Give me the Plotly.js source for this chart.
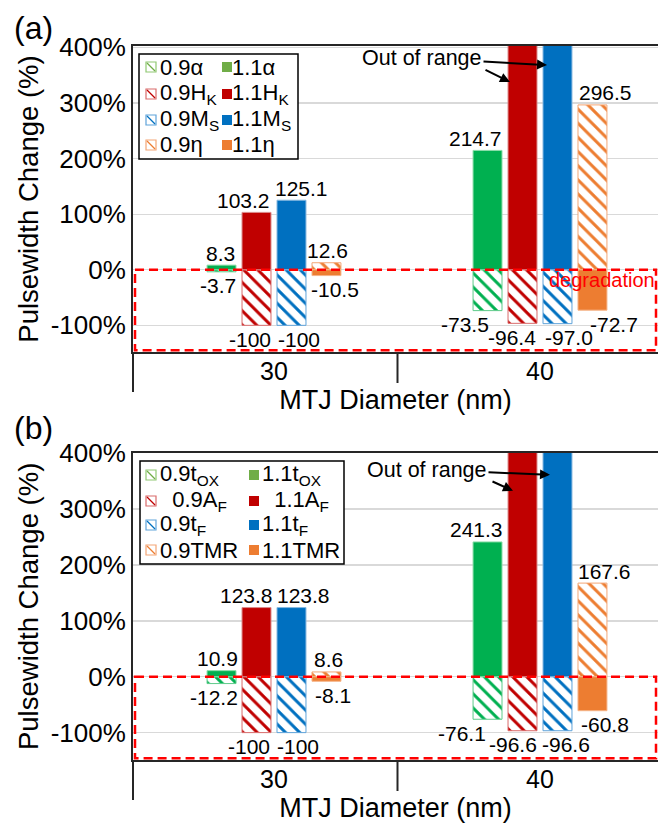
<!DOCTYPE html>
<html><head><meta charset="utf-8">
<script src="https://cdn.plot.ly/plotly-3.0.1.min.js"></script>
<style>body{margin:0;padding:0;background:#fff}#chart{width:658px;height:825px}</style>
</head><body><div id="chart"></div>
<script>
// ---------------- data ----------------
const categories = ['30', '40'];
const yTickVals = [-100, 0, 100, 200, 300, 400];

// panel (a)
const alpha09 = [-3.7, -73.5];
const alpha11 = [8.3, 214.7];
const hk09 = [-100, -96.4];
const hk11 = [103.2, 500];   // 40 nm bar is out of range
const ms09 = [-100, -97.0];
const ms11 = [125.1, 500];   // 40 nm bar is out of range
const eta09 = [12.6, 296.5];
const eta11 = [-10.5, -72.7];
const alpha09Labels = ['-3.7', '-73.5'];
const alpha11Labels = ['8.3', '214.7'];
const hk09Labels = ['-100', '-96.4'];
const hk11Labels = ['103.2', null];
const ms09Labels = ['-100', '-97.0'];
const ms11Labels = ['125.1', null];
const eta09Labels = ['12.6', '296.5'];
const eta11Labels = ['-10.5', '-72.7'];
const namesA09 = ['0.9α', '0.9H<sub>K</sub>', '0.9M<sub>S</sub>', '0.9η'];
const namesA11 = ['1.1α', '1.1H<sub>K</sub>', '1.1M<sub>S</sub>', '1.1η'];

// panel (b)
const tox09 = [-12.2, -76.1];
const tox11 = [10.9, 241.3];
const af09 = [-100, -96.6];
const af11 = [123.8, 500];   // out of range
const tf09 = [-100, -96.6];
const tf11 = [123.8, 500];   // out of range
const tmr09 = [8.6, 167.6];
const tmr11 = [-8.1, -60.8];
const tox09Labels = ['-12.2', '-76.1'];
const tox11Labels = ['10.9', '241.3'];
const af09Labels = ['-100', '-96.6'];
const af11Labels = ['123.8', null];
const tf09Labels = ['-100', '-96.6'];
const tf11Labels = ['123.8', null];
const tmr09Labels = ['8.6', '167.6'];
const tmr11Labels = ['-8.1', '-60.8'];
const namesB09 = ['0.9t<sub>OX</sub>', '\u00a0\u00a00.9A<sub>F</sub>', '0.9t<sub>F</sub>', '0.9TMR'];
const namesB11 = ['1.1t<sub>OX</sub>', '\u00a0\u00a01.1A<sub>F</sub>', '1.1t<sub>F</sub>', '1.1TMR'];

// ---------------- styles ----------------
const FONT = 'Liberation Sans, Arial, sans-serif';
const barColors = ['#00B050', '#C00000', '#0070C0', '#ED7D31'];
const legendColors = ['#70AD47', '#C00000', '#0070C0', '#ED7D31'];
const legendEdge = ['#8FC872', '#D96B6B', '#5FA3DA', '#F3A676'];
const hatchEdge = ['#5ECB8A', '#D96B6B', '#5FA3DA', '#F3A676'];
const solidEdge = ['#8CDDA9', '#DB8A8A', '#86B8E0', '#F5B488'];

const W = 658, H = 825, ML = 133, MR = 0, MT = 46, MB = 65;
const PW = W - ML - MR, PH = H - MT - MB;
const X0PX = 274, UNIT = 266;           // pixel of category 0 and px per category
const PITCH = 35 / UNIT;
const xd = px => (px - X0PX) / UNIT;    // pixel -> category-axis coordinate
const PX = px => (px - ML) / PW;        // pixel -> paper x
const PY = py => (H - MB - py) / PH;    // pixel -> paper y

const labelShiftA = { pos: [[-1, -13, 10, 1], [-12, 0, 0, 13]], neg: [[-4, -7, 7, 8], [-23, -11, 11, 21]] };
const labelShiftB = { pos: [[-4, -10, 12, 2], [-11, 0, 0, 12]], neg: [[-8, -8, 6, 6], [-26, -10, 8, 12]] };

const panels = [
  { xa: 'x', ya: 'y', s09: [alpha09, hk09, ms09, eta09], s11: [alpha11, hk11, ms11, eta11],
    l09: [alpha09Labels, hk09Labels, ms09Labels, eta09Labels], l11: [alpha11Labels, hk11Labels, ms11Labels, eta11Labels],
    n09: namesA09, n11: namesA11, shift: labelShiftA, domain: [0.5714, 1], range: [-148, 402.5] },
  { xa: 'x2', ya: 'y2', s09: [tox09, af09, tf09, tmr09], s11: [tox11, af11, tf11, tmr11],
    l09: [tox09Labels, af09Labels, tf09Labels, tmr09Labels], l11: [tox11Labels, af11Labels, tf11Labels, tmr11Labels],
    n09: namesB09, n11: namesB11, shift: labelShiftB, domain: [0, 0.4304], range: [-149, 401] }
];

const traces = [];
const annotations = [];
const shapes = [];

panels.forEach(p => {
  for (let k = 0; k < 4; k++) {
    traces.push({
      type: 'bar', x: categories, y: p.s09[k], xaxis: p.xa, yaxis: p.ya, offsetgroup: String(k),
      name: p.n09[k], showlegend: false, hoverinfo: 'y+name',
      marker: { color: 'white', line: { color: hatchEdge[k], width: 1 },
        pattern: { shape: '\\', size: 10, solidity: 0.3, fgcolor: barColors[k], bgcolor: 'white', fillmode: 'replace' } }
    });
    traces.push({
      type: 'bar', x: categories, y: p.s11[k], xaxis: p.xa, yaxis: p.ya, offsetgroup: String(k),
      name: p.n11[k], showlegend: false, hoverinfo: 'y+name',
      marker: { color: barColors[k], line: { color: solidEdge[k], width: 1 } }
    });
    [[p.s09[k], p.l09[k]], [p.s11[k], p.l11[k]]].forEach(([vals, labs]) => {
      vals.forEach((v, c) => {
        if (labs[c] == null) return;
        const pos = v >= 0;
        annotations.push({
          xref: p.xa, yref: p.ya, x: c + (k - 1.5) * PITCH, y: v, text: labs[c], showarrow: false,
          xanchor: 'center', yanchor: 'middle',
          xshift: (pos ? p.shift.pos : p.shift.neg)[c][k], yshift: pos ? 12 : -14,
          font: { family: FONT, size: 21, color: '#000' }
        });
      });
    });
  }
});

// red dashed degradation boxes, category boundary ticks, left axis extension
[['x', 'y', -145], ['x2', 'y2', -146]].forEach(([xa, ya, yb]) => {
  shapes.push({ type: 'rect', xref: xa, yref: ya, x0: xd(135), x1: xd(656), y0: 0, y1: yb,
    line: { color: '#FF0000', width: 2.5, dash: '9px,5px' }, fillcolor: 'rgba(0,0,0,0)', layer: 'above' });
  shapes.push({ type: 'line', xref: xa, yref: ya + ' domain', x0: xd(397.5), x1: xd(397.5),
    ysizemode: 'pixel', yanchor: 0, y0: 0, y1: -31, line: { color: '#262626', width: 2 } });
  shapes.push({ type: 'line', xref: xa + ' domain', yref: ya + ' domain', x0: 0, x1: 0,
    ysizemode: 'pixel', yanchor: 0, y0: 0, y1: -40, line: { color: '#262626', width: 2 } });
});

// manual two-column legends
function addLegend(box, rows, cols, n09, n11) {
  shapes.push({ type: 'rect', xref: 'paper', yref: 'paper', x0: PX(box[0]), x1: PX(box[2]), y0: PY(box[1]), y1: PY(box[3]),
    line: { color: '#000', width: 1.5 }, fillcolor: 'white', layer: 'above' });
  rows.forEach((cy, k) => {
    const sx = cols[0];
    shapes.push({ type: 'rect', xref: 'paper', yref: 'paper', x0: PX(sx), x1: PX(sx + 10), y0: PY(cy - 5), y1: PY(cy + 5),
      line: { color: legendEdge[k], width: 1.2 }, fillcolor: 'white', layer: 'above' });
    shapes.push({ type: 'line', xref: 'paper', yref: 'paper', x0: PX(sx + 1), x1: PX(sx + 9), y0: PY(cy - 4), y1: PY(cy + 4),
      line: { color: legendColors[k], width: 1.2 }, layer: 'above' });
    annotations.push({ xref: 'paper', yref: 'paper', x: PX(cols[1]), y: PY(cy), xanchor: 'left', yanchor: 'middle',
      text: n09[k], showarrow: false, borderpad: 0, font: { family: FONT, size: 22, color: '#000' } });
    shapes.push({ type: 'rect', xref: 'paper', yref: 'paper', x0: PX(cols[2]), x1: PX(cols[2] + 10), y0: PY(cy - 5), y1: PY(cy + 5),
      line: { width: 0 }, fillcolor: legendColors[k], layer: 'above' });
    annotations.push({ xref: 'paper', yref: 'paper', x: PX(cols[3]), y: PY(cy), xanchor: 'left', yanchor: 'middle',
      text: n11[k], showarrow: false, borderpad: 0, font: { family: FONT, size: 22, color: '#000' } });
  });
}
addLegend([139, 54, 298, 159], [67, 94, 120, 145], [146, 159, 222, 231], namesA09, namesA11);
addLegend([140, 461, 344, 564], [475, 501, 525, 550], [146, 159, 249, 261], namesB09, namesB11);

// out-of-range arrows
function outOfRange(xa, ya, y0px, pxPerPct, textPt, headBlue, tailRed, headRed) {
  const yv = py => (y0px - py) / pxPerPct;
  annotations.push({ xref: xa, yref: ya, x: xd(headBlue[0]), y: yv(headBlue[1]), text: 'Out of range',
    showarrow: true, arrowhead: 2, arrowsize: 1, arrowwidth: 2, arrowcolor: '#000',
    ax: textPt[0] - headBlue[0], ay: textPt[1] - headBlue[1], font: { family: FONT, size: 21.5, color: '#000' } });
  annotations.push({ xref: xa, yref: ya, x: xd(headRed[0]), y: yv(headRed[1]), text: '',
    showarrow: true, arrowhead: 2, arrowsize: 1, arrowwidth: 2, arrowcolor: '#000',
    ax: tailRed[0] - headRed[0], ay: tailRed[1] - headRed[1] });
}
outOfRange('x', 'y', 269.7, 0.556, [422, 58], [547, 65], [484, 69], [510, 82]);
outOfRange('x2', 'y2', 676.7, 0.558, [427, 470], [550, 475], [491, 481], [513, 491]);

annotations.push({ xref: 'paper', yref: 'paper', x: PX(602), y: PY(280), xanchor: 'center', yanchor: 'middle',
  text: 'degradation', showarrow: false, font: { family: FONT, size: 20, color: '#FF0000' } });
annotations.push({ xref: 'paper', yref: 'paper', x: PX(33), y: PY(28), xanchor: 'center', yanchor: 'middle',
  text: '(a)', showarrow: false, font: { family: FONT, size: 32, color: '#000' } });
annotations.push({ xref: 'paper', yref: 'paper', x: PX(33), y: PY(428), xanchor: 'center', yanchor: 'middle',
  text: '(b)', showarrow: false, font: { family: FONT, size: 32, color: '#000' } });

function xAxis(anchor) {
  return { type: 'category', anchor: anchor, domain: [0, 1], range: [xd(ML), xd(W - MR)],
    showline: true, linecolor: '#262626', linewidth: 2, mirror: true, ticks: '', showgrid: false, zeroline: false,
    tickfont: { family: FONT, size: 25, color: '#000' }, ticklabelstandoff: -4,
    title: { text: 'MTJ Diameter (nm)', font: { family: FONT, size: 27, color: '#000' }, standoff: 0 } };
}
function yAxis(anchor, p) {
  return { anchor: anchor, domain: p.domain, range: p.range, tickvals: yTickVals, ticktext: yTickVals.map(v => v + '%'),
    showgrid: true, gridcolor: '#D9D9D9', gridwidth: 1.3, zeroline: false,
    showline: true, linecolor: '#262626', linewidth: 2, ticks: '',
    tickfont: { family: FONT, size: 26, color: '#000' },
    title: { text: 'Pulsewidth Change (%)', font: { family: FONT, size: 27.5, color: '#000' }, standoff: 4 } };
}

const layout = {
  width: W, height: H, margin: { l: ML, r: MR, t: MT, b: MB }, barmode: 'group', bargap: 0.474, bargroupgap: 0.172,
  showlegend: false, paper_bgcolor: 'white', plot_bgcolor: 'white', font: { family: FONT, color: '#000' },
  xaxis: xAxis('y'), yaxis: yAxis('x', panels[0]), xaxis2: xAxis('y2'), yaxis2: yAxis('x2', panels[1]),
  shapes: shapes, annotations: annotations
};

Plotly.newPlot('chart', traces, layout, { displayModeBar: false, staticPlot: true });
</script></body></html>
